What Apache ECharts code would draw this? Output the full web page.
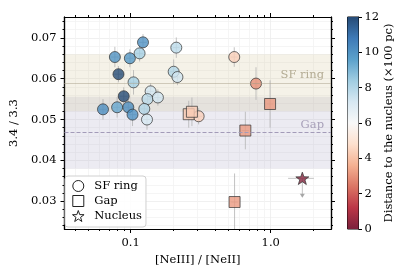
<!DOCTYPE html>
<html><head><meta charset="utf-8">
<script src="https://cdn.jsdelivr.net/npm/echarts@6/dist/echarts.min.js"></script>
<style>html,body{margin:0;padding:0;background:#fff}#c{width:411px;height:274px}</style>
</head><body><div id="c"></div><script>
// ---- data ----
const sfX  = [0.1227,0.0773,0.0989,0.116,0.082,0.105,0.0894,0.0636,0.0802,0.0964,0.1033,0.139,0.132,0.1253,0.131,0.1567,0.212,0.203,0.216,0.549,0.306,0.785];
const sfY  = [0.0689,0.0653,0.0650,0.0662,0.0611,0.0591,0.0557,0.0525,0.0530,0.0530,0.0512,0.0569,0.0550,0.0526,0.0500,0.0554,0.0676,0.0617,0.0604,0.0653,0.0508,0.0588];
const sfD  = [10.1,10.0,9.9,8.3,12,8.3,12,10.2,9.4,10.2,10.1,7.3,7.8,8.0,7.2,7.3,7.8,8.0,7.3,4.4,4.4,2.9];
const sfEx = [0.008,0.005,0.006,0.007,0.005,0.007,0.006,0.004,0.005,0.006,0.007,0.009,0.008,0.008,0.008,0.010,0.012,0.012,0.012,0.03,0.02,0.04];
const sfEy = [0.0020,0.0025,0.0022,0.0020,0.0020,0.0030,0.0022,0.0025,0.0025,0.0020,0.0028,0.0020,0.0020,0.0020,0.0025,0.0020,0.0025,0.0030,0.0020,0.0024,0.0020,0.0040];

const gapX  = [0.260,0.274,0.989,0.659,0.552];
const gapY  = [0.0513,0.0519,0.0538,0.0473,0.0298];
const gapD  = [4.2,4.3,3.1,3.1,3.1];
const gapEx = [0.015,0.015,0.05,0.04,0.03];
const gapEy = [0.0033,0.0035,0.0058,0.0046,0.0070];

const nucX  = [1.68];
const nucY  = [0.0356];
const nucD  = [0.2];
const nucEx = [0.35];
const nucLim = [0.0311];

const sfBand  = [0.052, 0.066];  const sfLine  = 0.059;
const gapBand = [0.038, 0.0556]; const gapLine = 0.0468;

const xMajorTicks = [0.1, 1];
const xMinorTicks = [0.04,0.05,0.06,0.07,0.08,0.09,0.2,0.3,0.4,0.5,0.6,0.7,0.8,0.9,2];
const yMajorTicks = [0.03,0.04,0.05,0.06,0.07];
const yMinorTicks = [0.024,0.026,0.028,0.032,0.034,0.036,0.038,0.042,0.044,0.046,0.048,0.052,0.054,0.056,0.058,0.062,0.064,0.066,0.068,0.072,0.074];
const cbTicks = [0,2,4,6,8,10,12];

// ---- colour map (RdBu reversed: 0 red -> 12 blue), slightly transparent ----
const rdbu = ['#67001f','#b2182b','#d6604d','#f4a582','#fddbc7','#f7f7f7','#d1e5f0','#92c5de','#4393c3','#2166ac','#053061'];
const ALPHA = 0.87;
function blend(hex){
  const r=parseInt(hex.slice(1,3),16),g=parseInt(hex.slice(3,5),16),b=parseInt(hex.slice(5,7),16);
  const f=v=>Math.round(v*ALPHA+255*(1-ALPHA));
  return 'rgb('+f(r)+','+f(g)+','+f(b)+')';
}
const cmap = rdbu.map(blend);

const FONT = 'DejaVu Serif';
const FS = 11.5;
const starPath = 'path://M0,-10L2.35,-3.24L9.51,-3.09L3.8,1.24L5.88,8.09L0,4L-5.88,8.09L-3.8,1.24L-9.51,-3.09L-2.35,-3.24Z';
const squarePath = 'path://M0,0L10,0L10,10L0,10Z';

function zip(xs,ys,ds){return xs.map((x,i)=>[x,ys[i],ds[i]]);}
function errData(xs,ys,exs,eys){return xs.map((x,i)=>[x,ys[i],exs[i],eys?eys[i]:0]);}

const errStyle = {stroke:'rgba(175,175,175,0.75)', lineWidth:1};
function errRender(params, api){
  const x=api.value(0), y=api.value(1), ex=api.value(2), ey=api.value(3);
  const c=api.coord([x,y]);
  const l=api.coord([x-ex,y]), r=api.coord([x+ex,y]);
  const t=api.coord([x,y+ey]), b=api.coord([x,y-ey]);
  const ch=[{type:'line',shape:{x1:l[0],y1:c[1],x2:r[0],y2:c[1]},style:errStyle}];
  if(ey>0) ch.push({type:'line',shape:{x1:c[0],y1:t[1],x2:c[0],y2:b[1]},style:errStyle});
  return {type:'group',children:ch};
}
function limRender(params, api){
  const x=api.value(0), y=api.value(1), yl=api.value(2);
  const c=api.coord([x,y]), e=api.coord([x,yl]);
  return {type:'group',children:[
    {type:'line',shape:{x1:c[0],y1:c[1],x2:c[0],y2:e[1]},style:errStyle},
    {type:'polygon',shape:{points:[[c[0]-2.5,e[1]-3],[c[0]+2.5,e[1]-3],[c[0],e[1]+1]]},style:{fill:'rgba(160,160,160,0.9)'}}
  ]};
}

const labelBase = {fontFamily:FONT, fontSize:FS, color:'#000'};
const lineBase = {lineStyle:{color:'#000', width:1.2}};
const XMIN=0.0338, XMAX=2.69, YMIN=0.0232, YMAX=0.0751;

function xAx(pos, ticks, len, labels, split, splitColor){
  return {type:'log', logBase:10, gridIndex:0, min:XMIN, max:XMAX, position:pos,
    axisLine:Object.assign({show:true,onZero:false},lineBase),
    axisTick:{show:true, inside:false, length:len, customValues:ticks, lineStyle:{color:'#000',width:1}},
    axisLabel: labels ? Object.assign({show:true, customValues:ticks, margin:8, formatter:v=>v>=1?v.toFixed(1):String(+v.toPrecision(2))},labelBase) : {show:false},
    splitLine:{show:split, lineStyle:{color:splitColor, width:0.8}},
    minorTick:{show:false}, minorSplitLine:{show:false}};
}
function yAx(pos, ticks, len, labels, split, splitColor){
  return {type:'value', gridIndex:0, min:YMIN, max:YMAX, position:pos,
    axisLine:Object.assign({show:true,onZero:false},lineBase),
    axisTick:{show:true, inside:false, length:len, customValues:ticks, lineStyle:{color:'#000',width:1}},
    axisLabel: labels ? Object.assign({show:true, customValues:ticks, margin:8, formatter:v=>v.toFixed(2)},labelBase) : {show:false},
    splitLine:{show:split, lineStyle:{color:splitColor, width:0.8}}};
}

const xAxes = [
  Object.assign(xAx('bottom', xMajorTicks, 4, true, true, '#ececec'), {name:'[NeIII] / [NeII]', nameLocation:'middle', nameGap:19, nameTextStyle:{fontFamily:FONT,fontSize:FS,color:'#000'}}),
  xAx('bottom', xMinorTicks, 2, false, true, '#f3f3f3'),
  xAx('top', xMajorTicks, 4, false, false),
  xAx('top', xMinorTicks, 2, false, false),
  {type:'category', gridIndex:1, data:['cb'], show:false}
];
const yAxes = [
  Object.assign(yAx('left', yMajorTicks, 4, true, true, '#ececec'), {name:'3.4 / 3.3', nameLocation:'middle', nameGap:31, nameTextStyle:{fontFamily:FONT,fontSize:FS,color:'#000'}}),
  yAx('left', yMinorTicks, 2, false, true, '#f3f3f3'),
  yAx('right', yMajorTicks, 4, false, false),
  yAx('right', yMinorTicks, 2, false, false),
  {type:'value', gridIndex:1, min:0, max:12, interval:2, position:'right',
   axisLine:{show:true, lineStyle:{color:'#000',width:1}},
   axisTick:{show:true, inside:false, length:3.5, lineStyle:{color:'#000'}},
   axisLabel:Object.assign({margin:6},labelBase),
   splitLine:{show:false},
   name:'Distance to the nucleus (\u00d7100 pc)', nameLocation:'middle', nameRotate:90, nameGap:25,
   nameTextStyle:{fontFamily:FONT,fontSize:FS,color:'#000'}}
];

const cbStops = cmap.map((c,i)=>({offset:1-i/(cmap.length-1), color:c}));

const markerEdge = {borderColor:'#333', borderWidth:0.9};
const legendIconStyle = {color:'#ffffff', opacity:1, borderColor:'#222', borderWidth:1};
const chart = echarts.init(document.getElementById('c'), null, {renderer:'canvas'});
chart.setOption({
  animation:false,
  backgroundColor:'#fff',
  grid:[
    {left:59, top:17, width:272, height:212, show:false},
    {left:347.5, top:17, width:11, height:212, show:true, borderColor:'#000', borderWidth:1, backgroundColor:'transparent'}
  ],
  xAxis:xAxes,
  yAxis:yAxes,
  visualMap:{show:false, type:'continuous', min:0, max:12, dimension:2, seriesIndex:[3,4,5], inRange:{color:cmap}},
  legend:{
    left:65, top:176, orient:'vertical', padding:[4,4,5,7], itemGap:3, itemWidth:22, itemHeight:11,
    backgroundColor:'rgba(255,255,255,0.85)', borderColor:'#d0d0d0', borderWidth:1, borderRadius:3,
    textStyle:{fontFamily:FONT, fontSize:FS, color:'#000'},
    itemStyle:legendIconStyle,
    data:[
      {name:'SF ring', icon:'circle', itemStyle:legendIconStyle},
      {name:'Gap', icon:squarePath, itemStyle:legendIconStyle},
      {name:'Nucleus', icon:starPath, itemStyle:legendIconStyle}
    ]
  },
  series:[
    {type:'line', xAxisIndex:0, yAxisIndex:0, data:[], z:0, silent:true,
     markArea:{silent:true, data:[
       [{yAxis:gapBand[0], itemStyle:{color:'rgba(160,155,190,0.2)'}},{yAxis:gapBand[1]}],
       [{yAxis:sfBand[0], itemStyle:{color:'rgba(205,190,140,0.2)'}},{yAxis:sfBand[1]}]
     ]},
     markLine:{silent:true, symbol:'none', precision:6, data:[
       {yAxis:sfLine, lineStyle:{type:'dotted', color:'#a8a08a', width:1},
        label:{show:true, position:'insideEndTop', formatter:'SF ring', fontFamily:FONT, fontSize:FS, color:'#b3ab93', distance:[7,2]}},
       {yAxis:gapLine, lineStyle:{type:[4,2], color:'#a39bb8', width:1},
        label:{show:true, position:'insideEndTop', formatter:'Gap', fontFamily:FONT, fontSize:FS, color:'#a8a0b9', distance:[7,2]}}
     ]}},
    {type:'custom', name:'err', xAxisIndex:0, yAxisIndex:0, renderItem:errRender, clip:true, z:1, silent:true,
     encode:{x:0,y:1},
     data:errData(sfX,sfY,sfEx,sfEy).concat(errData(gapX,gapY,gapEx,gapEy)).concat(errData(nucX,nucY,nucEx,null))},
    {type:'custom', name:'lim', xAxisIndex:0, yAxisIndex:0, renderItem:limRender, clip:true, z:1, silent:true,
     encode:{x:0,y:1}, data:nucX.map((x,i)=>[x,nucY[i],nucLim[i]])},
    {type:'scatter', name:'SF ring', xAxisIndex:0, yAxisIndex:0, symbol:'circle', symbolSize:11, z:3,
     itemStyle:markerEdge, data:zip(sfX,sfY,sfD)},
    {type:'scatter', name:'Gap', xAxisIndex:0, yAxisIndex:0, symbol:'rect', symbolSize:11, z:3,
     itemStyle:markerEdge, data:zip(gapX,gapY,gapD)},
    {type:'scatter', name:'Nucleus', xAxisIndex:0, yAxisIndex:0, symbol:starPath, symbolKeepAspect:true, symbolSize:13, z:3,
     itemStyle:markerEdge, data:zip(nucX,nucY,nucD)},
    {type:'bar', xAxisIndex:4, yAxisIndex:4, barWidth:'100%', silent:true, data:[12],
     itemStyle:{color:{type:'linear', x:0, y:0, x2:0, y2:1, colorStops:cbStops}}}
  ]
});
</script></body></html>
